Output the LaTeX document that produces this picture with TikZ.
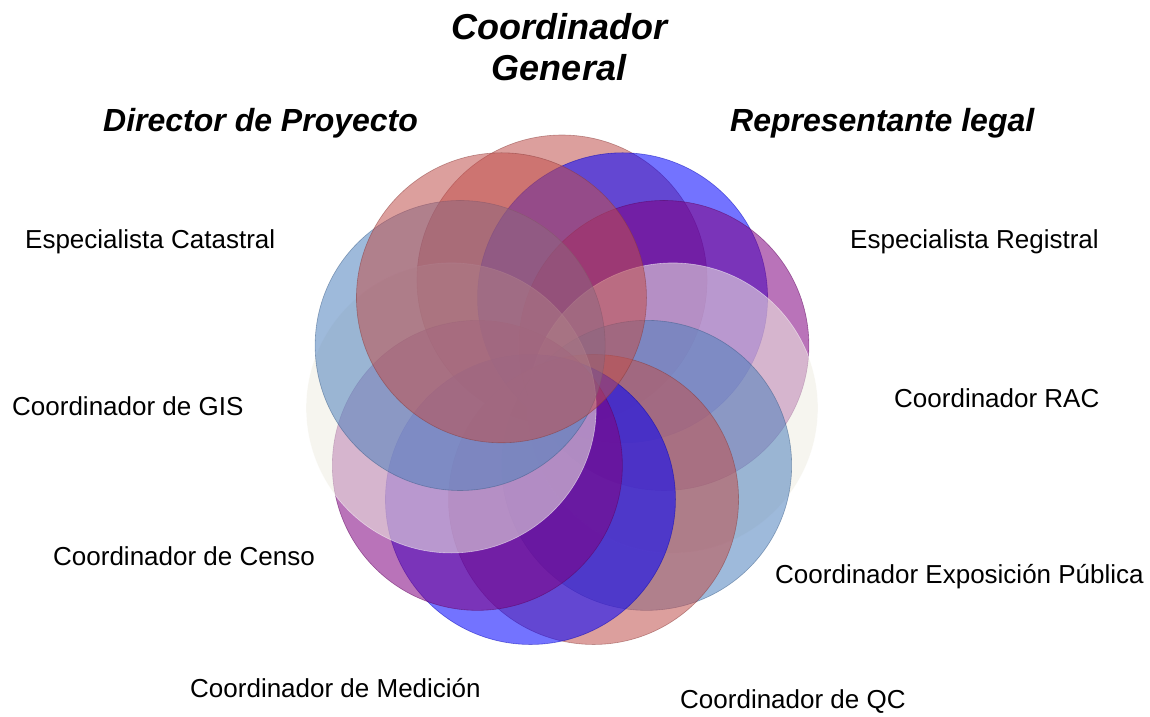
\documentclass[tikz,border=0pt]{standalone}
\usepackage{fontspec}
\setmainfont{Liberation Sans}
\definecolor{csalm}{HTML}{C0504D}
\definecolor{cblue}{HTML}{0000FF}
\definecolor{cpurp}{HTML}{800080}
\definecolor{cbeig}{HTML}{EEECE1}
\definecolor{cstee}{HTML}{4F81BD}
\begin{document}
\begin{tikzpicture}[x=1pt,y=-1pt,
  ring/.style={circle,minimum size=290pt,inner sep=0pt,fill opacity=0.55,draw opacity=0.5,line width=0.6pt},
  lbl/.style={anchor=base west,inner sep=0pt,font=\fontsize{26}{31}\selectfont},
  ttl/.style={anchor=base west,inner sep=0pt,font=\fontsize{32}{40}\selectfont\bfseries\itshape},
  big/.style={anchor=base,inner sep=0pt,font=\fontsize{36}{44}\selectfont\bfseries\itshape}]
\useasboundingbox (0,0) rectangle (1150,716);
\foreach \i/\c/\d in {0/csalm/csalm!70!black,1/cblue/cblue!70!black,2/cpurp/cpurp!70!black,3/cbeig/white,4/cstee/cstee!70!black,
                      5/csalm/csalm!70!black,6/cblue/cblue!70!black,7/cpurp/cpurp!70!black,8/cbeig/white,9/cstee/cstee!70!black,10/csalm/csalm!70!black}{
  \node[ring,fill=\c,draw=\d] (c\i) at ({562+112*cos(90-\i*360/11)},{392-112*sin(90-\i*360/11)}) {};
}
\node[big] (gen1) at (559,39) {Coordinador};
\node[big] (gen2) at (559,80) {General};
\node[ttl] (dir) at (103,131) {Director de Proyecto};
\node[ttl] (rep) at (730,131) {Representante legal};
\node[lbl] (ecat) at (25,248) {Especialista Catastral};
\node[lbl] (gis) at (12,415) {Coordinador de GIS};
\node[lbl] (censo) at (53,565) {Coordinador de Censo};
\node[lbl] (med) at (190,697) {Coordinador de Medición};
\node[lbl] (qc) at (680,708) {Coordinador de QC};
\node[lbl] (expo) at (775,583) {Coordinador Exposición Pública};
\node[lbl] (rac) at (894,407) {Coordinador RAC};
\node[lbl] (ereg) at (850,248) {Especialista Registral};
\end{tikzpicture}
\end{document}
